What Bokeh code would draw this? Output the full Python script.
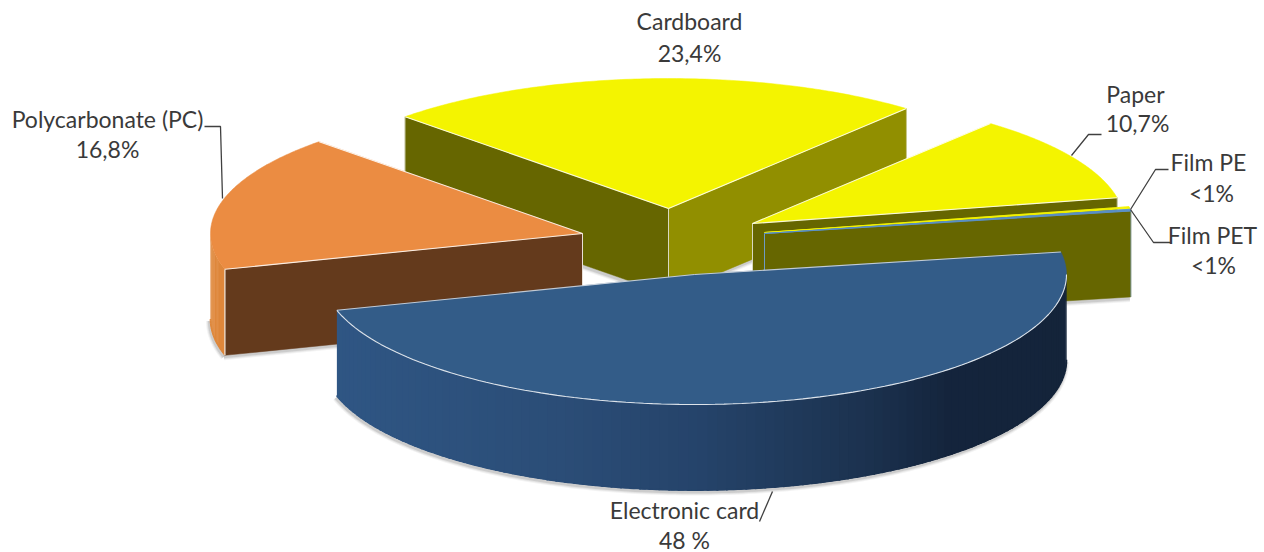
import numpy as np
from bokeh.plotting import figure
from bokeh.models import Range1d
from bokeh.core.properties import value
from bokeh.embed import file_html
from bokeh.resources import INLINE

# ---- data ----
categories = ["Electronic card", "Polycarbonate (PC)", "Cardboard", "Paper", "Film PE", "Film PET"]
values = [48.0, 16.8, 23.4, 10.7, 0.2, 0.2]
value_labels = ["48 %", "16,8%", "23,4%", "10,7%", "<1%", "<1%"]

# ---- layout (target pixels) ----
RX, RY, DEPTH = 372, 130, 86
START = -10.0
tips = {"Electronic card": (694, 274), "Polycarbonate (PC)": (582, 233), "Cardboard": (668, 208),
        "Paper": (752, 223), "Film PE": (764, 232), "Film PET": (764, 233)}
top_col = {"Electronic card": "#335C88", "Polycarbonate (PC)": "#EB8C42", "Cardboard": "#F4F400",
           "Paper": "#F4F400", "Film PE": "#F4F400", "Film PET": "#5B90C8"}
name_pos = {"Electronic card": (684, 509), "Polycarbonate (PC)": (107, 118), "Cardboard": (689, 20),
            "Paper": (1135, 93), "Film PE": (1208, 161), "Film PET": (1212, 234)}
val_pos = {"Electronic card": (684, 539), "Polycarbonate (PC)": (107, 148), "Cardboard": (689, 52),
           "Paper": (1137, 122), "Film PE": (1211, 192), "Film PET": (1213, 264)}
leaders = [[(204, 126), (220, 126), (222, 198)],
           [(1071, 155), (1088, 134), (1101, 134)],
           [(1130, 209), (1155, 169), (1168, 169)],
           [(1130, 209), (1153, 242), (1170, 242)],
           [(772, 491), (759, 521)]]

p = figure(width=1264, height=552, output_backend="svg", toolbar_location=None,
           x_range=Range1d(0, 1264), y_range=Range1d(552, 0), min_border=0,
           outline_line_color=None, background_fill_color="white", border_fill_color="white")
p.axis.visible = False
p.grid.visible = False

# angles follow the values, clockwise on screen
total = sum(values)
spans, a = {}, START
for c, v in zip(categories, values):
    spans[c] = (a, a + v / total * 360)
    a += v / total * 360


def pt(c, t, d=0):
    cx, cy = tips[c]
    r = np.radians(t)
    return cx + RX * np.cos(r), cy + RY * np.sin(r) + d


def arc(c, t0, t1, d=0, n=120):
    ts = np.linspace(t0, t1, n)
    cx, cy = tips[c]
    r = np.radians(ts)
    return cx + RX * np.cos(r), cy + RY * np.sin(r) + d


def shadow(xs, ys):
    for w, al in [(7, .07), (5, .10), (3, .16)]:
        p.line(list(np.array(xs) - 1), list(np.array(ys) + 1.5), line_color="#555555", line_width=w, line_alpha=al)


def radial_face(c, t, color, edge="#D8D8C0"):
    cx, cy = tips[c]
    ex, ey = pt(c, t)
    shadow([cx, ex], [cy + DEPTH, ey + DEPTH])
    p.patch([cx, ex, ex, cx], [cy, ey, ey + DEPTH, cy + DEPTH], fill_color=color, line_color=color, line_width=.5)
    p.line([cx, cx], [cy, cy + DEPTH], line_color=edge, line_width=1)
    p.line([ex, ex], [ey, ey + DEPTH], line_color=edge, line_width=1, line_alpha=.6)


def top(c, edge="white"):
    cx, cy = tips[c]
    t0, t1 = spans[c]
    xs, ys = arc(c, t0, t1)
    p.patch([cx, *xs], [cy, *ys], fill_color=top_col[c], line_color=top_col[c], line_width=.5)
    for t in (t0, t1):
        ex, ey = pt(c, t)
        p.line([cx, ex], [cy, ey], line_color=edge, line_width=1.1, line_alpha=.85)


def lerp_hex(stops, x):
    xs = [s[0] for s in stops]
    chans = [np.interp(x, xs, [int(s[1][i:i + 2], 16) for s in stops]) for i in (1, 3, 5)]
    return "#%02x%02x%02x" % tuple(int(round(q)) for q in chans)


def round_side(c, t0, t1, stops, n=110):
    bx, by = arc(c, t0, t1, DEPTH, 160)
    shadow(bx, by)
    ts = np.linspace(t0, t1, n + 1)
    step = ts[1] - ts[0]
    # each piece reaches under the next one, so that no seams show between them
    for a0 in ts[:-1]:
        end = a0 + 1.6 * step
        end = max(end, t1) if step < 0 else min(end, t1)
        xs0, ys0 = arc(c, a0, end, 0, 4)
        col = lerp_hex(stops, pt(c, a0 + step / 2)[0])
        p.patch(list(xs0) + list(xs0[::-1]), list(ys0) + list((ys0 + DEPTH)[::-1]),
                fill_color=col, line_color=None)
    # a clean lower rim over the joined pieces
    for a0 in ts[:-1]:
        xs0, ys0 = arc(c, a0 - step * .1, a0 + step * 1.1, DEPTH - .4, 4)
        col = lerp_hex(stops, pt(c, a0 + step / 2)[0])
        p.line(list(xs0), list(ys0), line_color=col, line_width=1.6, line_cap="butt")


# Cardboard
c = "Cardboard"
radial_face(c, spans[c][0], "#666600")
radial_face(c, spans[c][1], "#918F00")
top(c)
# Paper
c = "Paper"
radial_face(c, spans[c][1], "#666600")
top(c)
# Film PE / PET
c = "Film PET"
radial_face(c, spans[c][1], "#666600", edge="#6F9BC4")
top("Film PE", edge="#F4F400")
top(c, edge="#5B90C8")
# Polycarbonate
c = "Polycarbonate (PC)"
radial_face(c, spans[c][0], "#643A1C", edge="#E8E0D8")
round_side(c, spans[c][0], 180, [(200, "#E08A3D"), (240, "#DC8439")], n=24)
x0, y0 = pt(c, spans[c][0])
p.line([x0, x0], [y0, y0 + DEPTH], line_color="#F2EDE6", line_width=1)
top(c)
# Electronic card
c = "Electronic card"
round_side(c, spans[c][1], 0, [(330, "#2F5684"), (560, "#2B4D77"), (700, "#25436A"),
                               (870, "#1B314E"), (950, "#14243C"), (1070, "#14243A")])
top(c, edge="#D8DEE6")
ax, ay = arc(c, 0, spans[c][1])
p.line(list(ax), list(ay), line_color="#DDE3EA", line_width=1.1)

# leader lines
for seg in leaders:
    p.line([q[0] for q in seg], [q[1] for q in seg], line_color="#404040", line_width=1.3)

# labels
for pos, texts in ((name_pos, categories), (val_pos, value_labels)):
    for key, t in zip(categories, texts):
        x, y = pos[key]
        p.text([x], [y], text=[t], text_font=value("Lato"), text_font_size="23px",
               text_color="#3A3A3A", text_align="center", text_baseline="middle")

open("out.html", "w").write(file_html(p, INLINE))
